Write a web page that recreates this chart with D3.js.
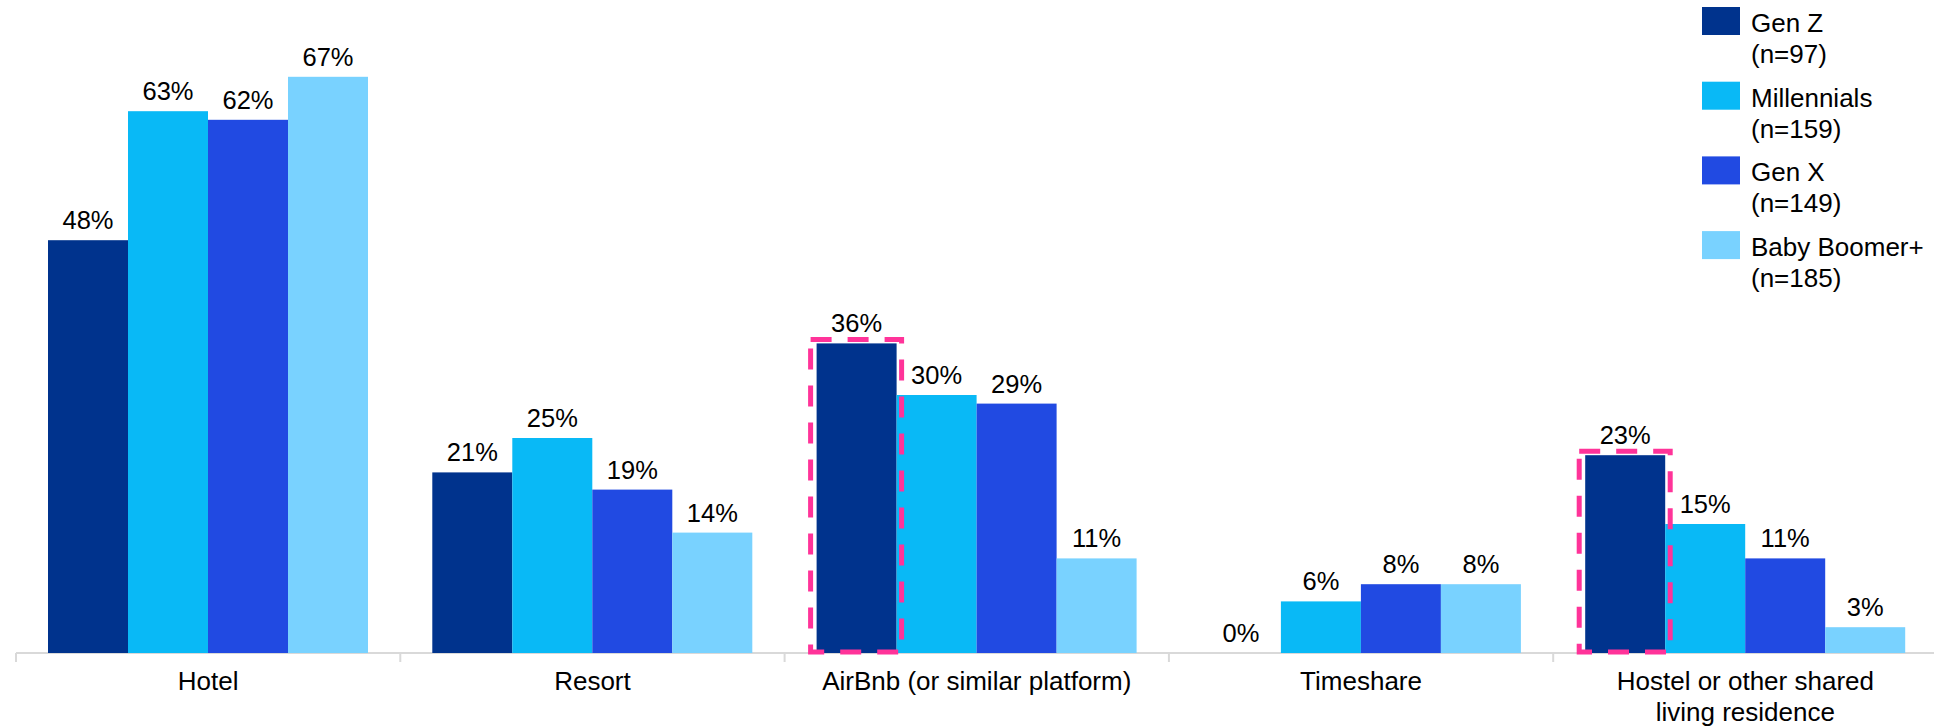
<!DOCTYPE html>
<html>
<head>
<meta charset="utf-8">
<script src="https://cdn.jsdelivr.net/npm/d3@7"></script>
<style>
  html, body { margin: 0; padding: 0; background: #ffffff; }
  svg { display: block; font-family: Arial, "Liberation Sans", sans-serif; }
</style>
</head>
<body>
<svg id="chart" width="1934" height="728"></svg>
<script>
// Accommodation types and the share of each generation that used them
const categories = ["Hotel", "Resort", "AirBnb (or similar platform)", "Timeshare", "Hostel or other shared living residence"];
const categoryLines = [["Hotel"], ["Resort"], ["AirBnb (or similar platform)"], ["Timeshare"], ["Hostel or other shared", "living residence"]];
const seriesNames = ["Gen Z", "Millennials", "Gen X", "Baby Boomer+"];
const seriesSizes = ["(n=97)", "(n=159)", "(n=149)", "(n=185)"];
const seriesColors = ["#00338D", "#09B9F6", "#214AE2", "#79D2FF"];
const genZ        = [48, 21, 36, 0, 23];
const millennials = [63, 25, 30, 6, 15];
const genX        = [62, 19, 29, 8, 11];
const boomers     = [67, 14, 11, 8, 3];
// Gen Z bars outlined with a dashed highlight
const highlighted = ["AirBnb (or similar platform)", "Hostel or other shared living residence"];

const seriesValues = [genZ, millennials, genX, boomers];
const rows = [];
categories.forEach((c, i) => {
  seriesNames.forEach((s, j) => rows.push({ category: c, series: s, value: seriesValues[j][i], si: j }));
});

const svg = d3.select("#chart");
const baseline = 653;
const groupPad = 32;
const groupWidth = 320;

const x0 = d3.scaleBand().domain(categories).range([16, 1937.5]).padding(0);
const x1 = d3.scaleBand().domain(seriesNames).range([0, groupWidth]).padding(0);
const y = d3.scaleLinear().domain([0, 100]).range([baseline, baseline - 860]);
const color = d3.scaleOrdinal().domain(seriesNames).range(seriesColors);

// Category axis
const axis = d3.axisBottom(x0).tickSize(0).tickFormat("");
const axisG = svg.append("g").attr("transform", `translate(0,${baseline})`).call(axis);
axisG.select(".domain").attr("stroke", "#d9d9d9").attr("stroke-width", 2).attr("d", `M16,0H1934`);
// boundary ticks between categories
const boundaries = categories.map(c => x0(c));
svg.append("g").selectAll("line").data(boundaries).join("line")
  .attr("x1", d => d).attr("x2", d => d)
  .attr("y1", baseline).attr("y2", baseline + 9)
  .attr("stroke", "#d9d9d9").attr("stroke-width", 2);

// Category labels
const labelG = svg.append("g");
categories.forEach((c, i) => {
  const t = labelG.append("text")
    .attr("x", x0(c) + x0.bandwidth() / 2)
    .attr("y", 690)
    .attr("text-anchor", "middle")
    .attr("font-size", 26)
    .attr("fill", "#000");
  categoryLines[i].forEach((line, k) => {
    t.append("tspan").attr("x", x0(c) + x0.bandwidth() / 2).attr("dy", k === 0 ? 0 : 31).text(line);
  });
});

// Bars
const barX = d => x0(d.category) + groupPad + x1(d.series);
svg.append("g").selectAll("rect").data(rows).join("rect")
  .attr("x", barX)
  .attr("y", d => y(d.value))
  .attr("width", x1.bandwidth())
  .attr("height", d => baseline - y(d.value))
  .attr("fill", d => color(d.series));

// Value labels
svg.append("g").selectAll("text").data(rows).join("text")
  .attr("x", d => barX(d) + x1.bandwidth() / 2)
  .attr("y", d => y(d.value) - 11)
  .attr("text-anchor", "middle")
  .attr("font-size", 25.5)
  .attr("fill", "#000")
  .text(d => d.value + "%");

// Dashed highlight boxes around the Gen Z bars
const hlRows = rows.filter(d => d.series === "Gen Z" && highlighted.includes(d.category));
svg.append("g").selectAll("rect").data(hlRows).join("rect")
  .attr("x", d => barX(d) - 6)
  .attr("y", d => y(d.value) - 4)
  .attr("width", x1.bandwidth() + 11)
  .attr("height", d => baseline - 1 - (y(d.value) - 4))
  .attr("fill", "none")
  .attr("stroke", "#FF3399")
  .attr("stroke-width", 5)
  .attr("stroke-dasharray", "21,16");

// Legend
const legend = svg.append("g");
seriesNames.forEach((s, i) => {
  const top = 7 + i * 74.7;
  legend.append("rect")
    .attr("x", 1702).attr("y", top)
    .attr("width", 38).attr("height", 28)
    .attr("fill", seriesColors[i]);
  const t = legend.append("text")
    .attr("x", 1751).attr("y", top + 25)
    .attr("font-size", 26).attr("fill", "#000");
  t.append("tspan").attr("x", 1751).attr("dy", 0).text(s);
  t.append("tspan").attr("x", 1751).attr("dy", 31).text(seriesSizes[i]);
});
</script>
</body>
</html>
